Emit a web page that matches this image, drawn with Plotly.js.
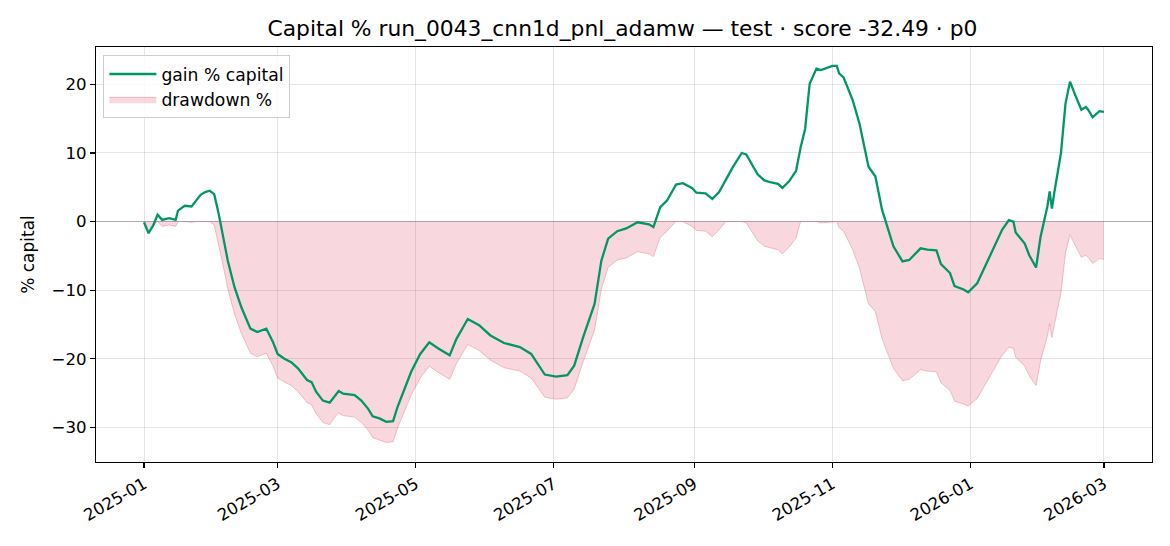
<!DOCTYPE html>
<html>
<head>
<meta charset="utf-8">
<script src="https://cdn.plot.ly/plotly-3.0.1.min.js"></script>
<style>
  html, body { margin: 0; padding: 0; background: #ffffff; }
  #chart { width: 1170px; height: 546px; }
</style>
</head>
<body>
<div id="chart"></div>
<script>
const dates = [
  "2025-01-01","2025-01-03","2025-01-05","2025-01-07","2025-01-09","2025-01-12","2025-01-15","2025-01-16","2025-01-19","2025-01-22",
  "2025-01-24","2025-01-26","2025-01-28","2025-01-30","2025-02-01","2025-02-03","2025-02-05","2025-02-07","2025-02-10","2025-02-13",
  "2025-02-17","2025-02-20","2025-02-24","2025-02-27","2025-03-01","2025-03-04","2025-03-07","2025-03-10","2025-03-14","2025-03-16",
  "2025-03-18","2025-03-21","2025-03-24","2025-03-27","2025-03-28","2025-03-30","2025-04-04","2025-04-07","2025-04-10","2025-04-12",
  "2025-04-15","2025-04-18","2025-04-21","2025-04-23","2025-04-26","2025-04-29","2025-05-03","2025-05-07","2025-05-11","2025-05-16",
  "2025-05-19","2025-05-24","2025-05-29","2025-06-03","2025-06-09","2025-06-16","2025-06-21","2025-06-27","2025-07-02","2025-07-07",
  "2025-07-10","2025-07-14","2025-07-19","2025-07-22","2025-07-25","2025-07-29","2025-08-02","2025-08-07","2025-08-12","2025-08-14",
  "2025-08-17","2025-08-20","2025-08-24","2025-08-27","2025-08-31","2025-09-02","2025-09-06","2025-09-09","2025-09-12","2025-09-15",
  "2025-09-18","2025-09-22","2025-09-24","2025-09-29","2025-10-02","2025-10-05","2025-10-08","2025-10-10","2025-10-13","2025-10-16",
  "2025-10-18","2025-10-20","2025-10-22","2025-10-25","2025-10-27","2025-11-01","2025-11-03","2025-11-04","2025-11-06","2025-11-10",
  "2025-11-13","2025-11-17","2025-11-20","2025-11-23","2025-11-26","2025-11-28","2025-12-02","2025-12-05","2025-12-10","2025-12-13",
  "2025-12-17","2025-12-19","2025-12-23","2025-12-25","2025-12-29","2025-12-31","2026-01-04","2026-01-08","2026-01-12","2026-01-15",
  "2026-01-18","2026-01-20","2026-01-21","2026-01-25","2026-01-27","2026-01-30","2026-02-01","2026-02-04","2026-02-05","2026-02-06",
  "2026-02-07","2026-02-10","2026-02-12","2026-02-14","2026-02-16","2026-02-19","2026-02-21","2026-02-22","2026-02-24","2026-02-27",
  "2026-03-01"
];

const gainPct = [
  -0.1,-1.7,-0.6,1.0,0.25,0.5,0.25,1.6,2.3,2.2,
  3.05,3.9,4.3,4.5,4.0,1.1,-2.3,-5.7,-9.6,-12.5,
  -15.6,-16.1,-15.6,-17.6,-19.3,-20.0,-20.5,-21.4,-23.1,-23.4,
  -24.8,-26.1,-26.4,-25.0,-24.7,-25.1,-25.3,-26.1,-27.3,-28.4,
  -28.7,-29.2,-29.1,-27.0,-24.4,-21.9,-19.3,-17.6,-18.5,-19.5,
  -17.1,-14.2,-15.1,-16.6,-17.7,-18.3,-19.3,-22.3,-22.6,-22.4,
  -21.0,-16.8,-12.0,-5.7,-2.5,-1.4,-1.0,-0.1,-0.4,-0.8,
  2.1,3.05,5.4,5.6,4.9,4.2,4.1,3.3,4.3,6.2,
  7.9,10.0,9.8,6.9,6.0,5.7,5.5,4.9,5.9,7.4,
  10.8,13.5,20.1,22.3,22.1,22.7,22.7,21.6,21.0,17.7,
  14.3,8.0,6.6,1.7,-1.5,-3.6,-5.8,-5.6,-3.9,-4.1,
  -4.2,-6.2,-7.5,-9.4,-9.9,-10.3,-9.0,-6.1,-3.3,-1.2,
  0.2,0.0,-1.6,-3.2,-4.9,-6.7,-2.2,2.2,4.4,1.9,
  4.1,10.0,17.2,20.4,18.7,16.3,16.7,16.3,15.2,16.1,
  16.0
];

const drawdownPct = [
  0,-1.7,-0.6,0,-0.7,-0.5,-0.7,0,0,-0.1,
  0,0,0,0,-0.5,-3.3,-6.5,-9.8,-13.5,-16.3,
  -19.2,-19.7,-19.2,-21.1,-22.8,-23.4,-23.9,-24.8,-26.4,-26.7,
  -28.0,-29.3,-29.6,-28.2,-27.9,-28.3,-28.5,-29.3,-30.4,-31.5,
  -31.8,-32.2,-32.1,-30.1,-27.7,-25.3,-22.8,-21.1,-22.0,-23.0,
  -20.7,-17.9,-18.8,-20.2,-21.3,-21.8,-22.8,-25.6,-25.9,-25.7,
  -24.4,-20.4,-15.8,-9.8,-6.7,-5.6,-5.3,-4.4,-4.7,-5.1,
  -2.3,-1.4,0,0,-0.7,-1.3,-1.4,-2.2,-1.2,0,
  0,0,-0.2,-2.8,-3.6,-3.9,-4.1,-4.7,-3.7,-2.4,
  0,0,0,0,-0.2,0,0,-0.9,-1.4,-4.1,
  -6.8,-12.0,-13.1,-17.1,-19.7,-21.4,-23.2,-23.0,-21.6,-21.8,
  -21.9,-23.5,-24.6,-26.2,-26.6,-26.9,-25.8,-23.5,-21.2,-19.5,
  -18.3,-18.5,-19.8,-21.1,-22.5,-23.9,-20.3,-16.7,-14.9,-16.9,
  -15.2,-10.4,-4.6,-1.9,-3.3,-5.2,-4.9,-5.2,-6.1,-5.4,
  -5.5
];

const yTickVals = [-30, -20, -10, 0, 10, 20];
const titleText = "Capital % run_0043_cnn1d_pnl_adamw — test · score -32.49 · p0";

const FONT = "DejaVu Sans, Liberation Sans, sans-serif";
const TICK = 16.6;

const traces = [
  {
    x: dates, y: drawdownPct, type: "scatter", mode: "lines",
    name: "drawdown %", fill: "tozeroy",
    fillcolor: "rgba(220,20,60,0.17)",
    line: { color: "rgba(230,90,120,0.35)", width: 1 },
    legendrank: 2, hoverinfo: "skip"
  },
  {
    x: dates, y: gainPct, type: "scatter", mode: "lines",
    name: "gain % capital",
    line: { color: "#009668", width: 2.3 },
    legendrank: 1, hoverinfo: "skip"
  }
];

const layout = {
  width: 1170, height: 546,
  paper_bgcolor: "#ffffff", plot_bgcolor: "#ffffff",
  margin: { l: 96, r: 18, t: 47, b: 84 },
  font: { family: FONT, size: TICK, color: "#000000" },
  title: {
    text: titleText,
    font: { family: FONT, size: 21.8, color: "#000000" },
    x: 0.532, xanchor: "center", xref: "container",
    y: 1 - 28 / 546, yanchor: "middle", yref: "container"
  },
  showlegend: true,
  legend: {
    x: 0.007, y: 0.98, xanchor: "left", yanchor: "top",
    bgcolor: "rgba(255,255,255,0.85)", bordercolor: "#cccccc", borderwidth: 1,
    font: { family: FONT, size: 17.2, color: "#000000" },
    itemwidth: 47,
    tracegroupgap: 0
  },
  xaxis: {
    type: "date",
    range: ["2024-12-10 19:00", "2026-03-22 05:00"],
    tick0: "2025-01-01", dtick: "M2", tickformat: "%Y-%m",
    tickangle: -30,
    ticks: "outside", ticklen: 5, tickwidth: 1.1, tickcolor: "#000000",
    showgrid: true, gridcolor: "rgba(176,176,176,0.33)", gridwidth: 1,
    showline: true, linecolor: "#000000", linewidth: 1.1, mirror: true,
    zeroline: false,
    tickfont: { family: FONT, size: TICK, color: "#000000" }
  },
  yaxis: {
    range: [-35.05, 25.45],
    tickvals: yTickVals,
    ticks: "outside", ticklen: 5, tickwidth: 1.1, tickcolor: "#000000",
    showgrid: true, gridcolor: "rgba(176,176,176,0.33)", gridwidth: 1,
    showline: true, linecolor: "#000000", linewidth: 1.1, mirror: true,
    zeroline: true, zerolinecolor: "rgba(120,120,120,0.6)", zerolinewidth: 1.1,
    title: { text: "% capital", font: { family: FONT, size: 17, color: "#000000" }, standoff: 12 },
    tickfont: { family: FONT, size: TICK, color: "#000000" }
  }
};

Plotly.newPlot("chart", traces, layout, { displayModeBar: false, staticPlot: true });
</script>
</body>
</html>
